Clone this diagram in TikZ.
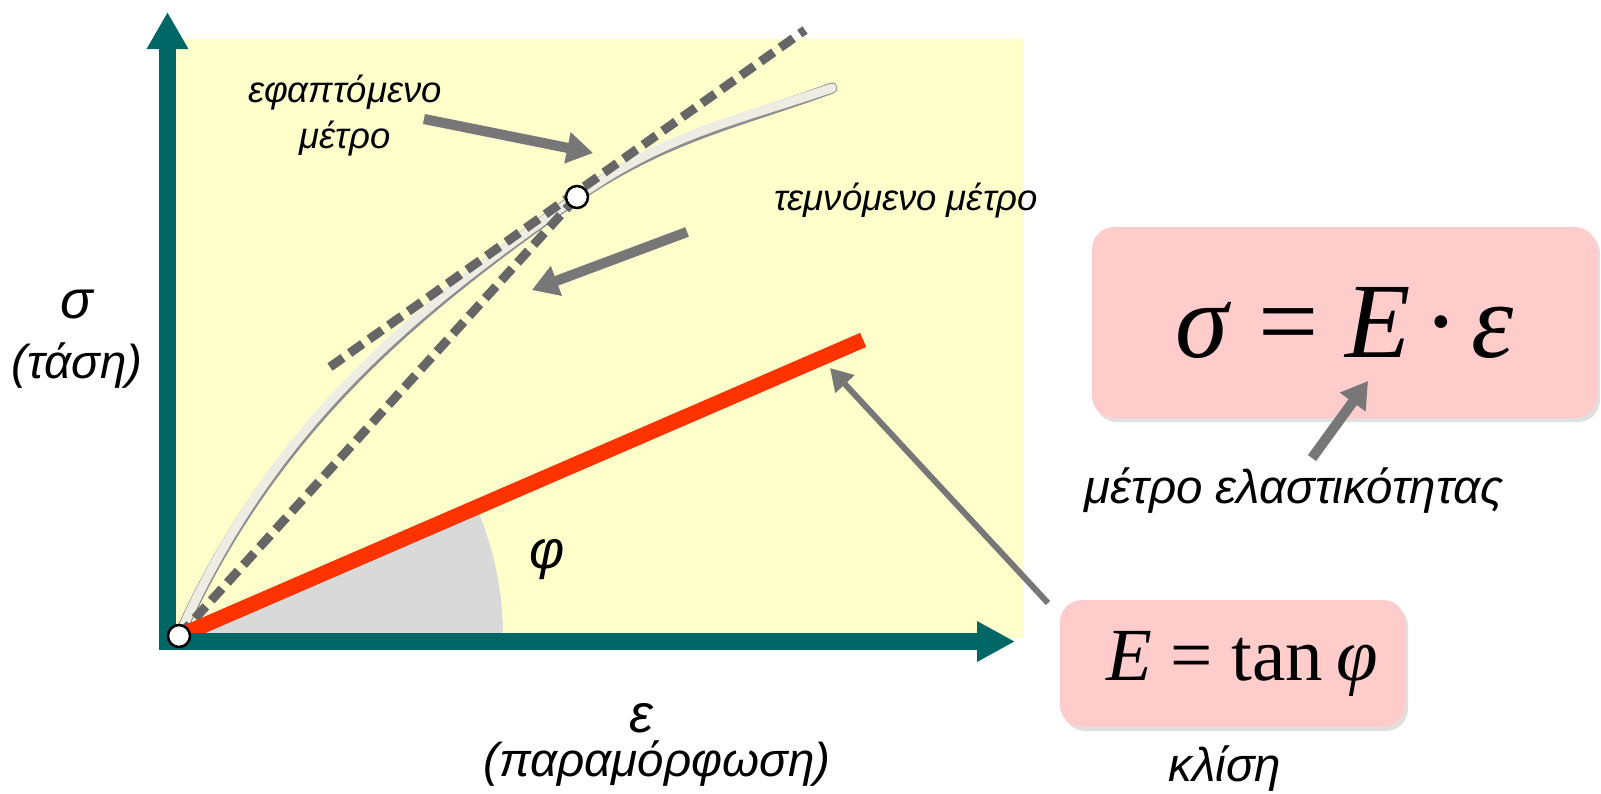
\documentclass[tikz,border=0pt]{standalone}
\usepackage{fontspec}
\setmainfont{Liberation Sans}
\newfontfamily\formfont{Liberation Serif}
\usetikzlibrary{arrows.meta,shadows}
\definecolor{axisteal}{HTML}{006666}
\definecolor{plotbg}{HTML}{FFFFCC}
\definecolor{formbg}{HTML}{FFCCCC}
\definecolor{loadred}{HTML}{FF3300}
\definecolor{reddark}{HTML}{B02800}
\definecolor{pointgray}{HTML}{777777}
\definecolor{dashgray}{HTML}{666666}
\definecolor{sectgray}{HTML}{D9D9D9}
\definecolor{curvelight}{HTML}{EEEDE4}
\definecolor{curvegray}{HTML}{8E8E8E}
\tikzset{
  axis/.style   ={axisteal, line width=17pt, line join=miter,
                  {Triangle[length=37pt,width=39pt]}-{Triangle[length=38pt,width=38pt]}},
  curveshade/.style={curvegray, line width=11pt, line cap=round},
  curvebody/.style={curvelight, line width=9pt, line cap=round},
  dashline/.style={dashgray, line width=9pt, dash pattern=on 16pt off 8pt},
  loadline/.style={loadred, line width=15pt},
  pt/.style     ={circle, draw=black, fill=white, line width=2.5pt,
                  minimum size=22pt, inner sep=0pt},
  pointer/.style={pointgray, line width=10pt, -{Triangle[length=26pt,width=30pt]}},
  thinptr/.style={pointgray, line width=6pt, -{Triangle[length=22pt,width=25pt]}},
  ptrshade/.style={black!25, shift={(2,3)}},
  % formula boxes: pink, rounded, soft shadow
  formbox/.style={fill=formbg, rounded corners=22pt, inner sep=0pt,
                  drop shadow={shadow xshift=3pt, shadow yshift=-4pt, opacity=0.25}},
  lbl/.style    ={font=\fontsize{36.5}{46}\selectfont\itshape, align=center},
  axsub/.style  ={font=\fontsize{47.5}{52}\selectfont\itshape},
  axsym/.style  ={font=\fontsize{54}{60}\selectfont\itshape},
}

\begin{document}
\begin{tikzpicture}[x=1pt, y=-1pt]
    \useasboundingbox (0,0) rectangle (1601,793);
    % plot area
    \fill[plotbg] (176,39) rectangle (1023,638);
    \coordinate (O)  at (179,636);
    \coordinate (P)  at (577,197);
    \coordinate (C)  at (832,88);
    \coordinate (R)  at (863,340);
    \coordinate (T1) at (330,367);
    \coordinate (T2) at (805,30);
    % angle sector
    \fill[sectgray] (O) -- ++(324pt,0pt) arc[start angle=0, end angle=23.4, radius=324pt] -- cycle;
    % stress-strain curve
    \draw[curveshade, shift={(1.5,2)}] (O) .. controls (274,418) and (425,302) .. (P)
        .. controls (667,133) and (742,119) .. (C);
    \draw[curvebody] (O) .. controls (274,418) and (425,302) .. (P)
        .. controls (667,133) and (742,119) .. (C);
    % tangent and secant
    \draw[dashline] (O) -- (P);
    \draw[dashline] (T1) -- (T2);
    % linear part
    \draw[reddark, line width=15pt, shift={(0,2)}] (O) -- (R);
    \draw[loadline] (O) -- (R);
    % axes
    \draw[axis] (167.5,12) -- (167.5,641.5) -- (1015,641.5);
    \node[pt] (Pn) at (P) {};
    \node[pt] (On) at (O) {};
    % labels
    \node[lbl]   (tanL) at (345,116) {εφαπτόμενο\\μέτρο};
    \node[lbl]   (secL) at (906,201) {τεμνόμενο μέτρο};
    \node[axsym] (sig)  at (77,304)  {σ};
    \node[axsub] (sigT) at (77,366)  {(τάση)};
    \node[axsym] (eps)  at (641,718) {ε};
    \node[axsub] (epsT) at (657,764) {(παραμόρφωση)};
    \node[axsym] (phi)  at (547,560) {φ};
    % formulas
    \node[formbox, minimum width=505pt, minimum height=191pt,
          font=\formfont\fontsize{107}{112}\selectfont] (F1) at (1344.5,322.5)
          {\textit{σ} = \textit{E}\hspace{0.12em}·\hspace{0.12em}\textit{ε}};
    \node[formbox, minimum width=345pt, minimum height=127pt,
          font=\formfont\fontsize{75}{80}\selectfont] (F2) at (1232.5,663.5)
          {\hspace*{0.25em}\textit{E} = tan\,\textit{φ}};
    \node[axsub] (modL)   at (1294,491) {μέτρο ελαστικότητας};
    \node[axsub] (slopeL) at (1225,769) {κλίση};
    % pointers
    \coordinate (a1) at (424,119);  \coordinate (a1t) at (593,153);
    \coordinate (a2) at (687,232);  \coordinate (a2t) at (532,290);
    \coordinate (a3) at (1048,603); \coordinate (a3t) at (830,368);
    \coordinate (a4) at (1312,458); \coordinate (a4t) at (1368,381);
    \draw[pointer, ptrshade] (a1) -- (a1t);
    \draw[pointer, ptrshade] (a2) -- (a2t);
    \draw[pointer, ptrshade] (a4) -- (a4t);
    \draw[pointer] (a1) -- (a1t);
    \draw[pointer] (a2) -- (a2t);
    \draw[thinptr] (a3) -- (a3t);
    \draw[pointer] (a4) -- (a4t);
  \end{tikzpicture}
\end{document}
